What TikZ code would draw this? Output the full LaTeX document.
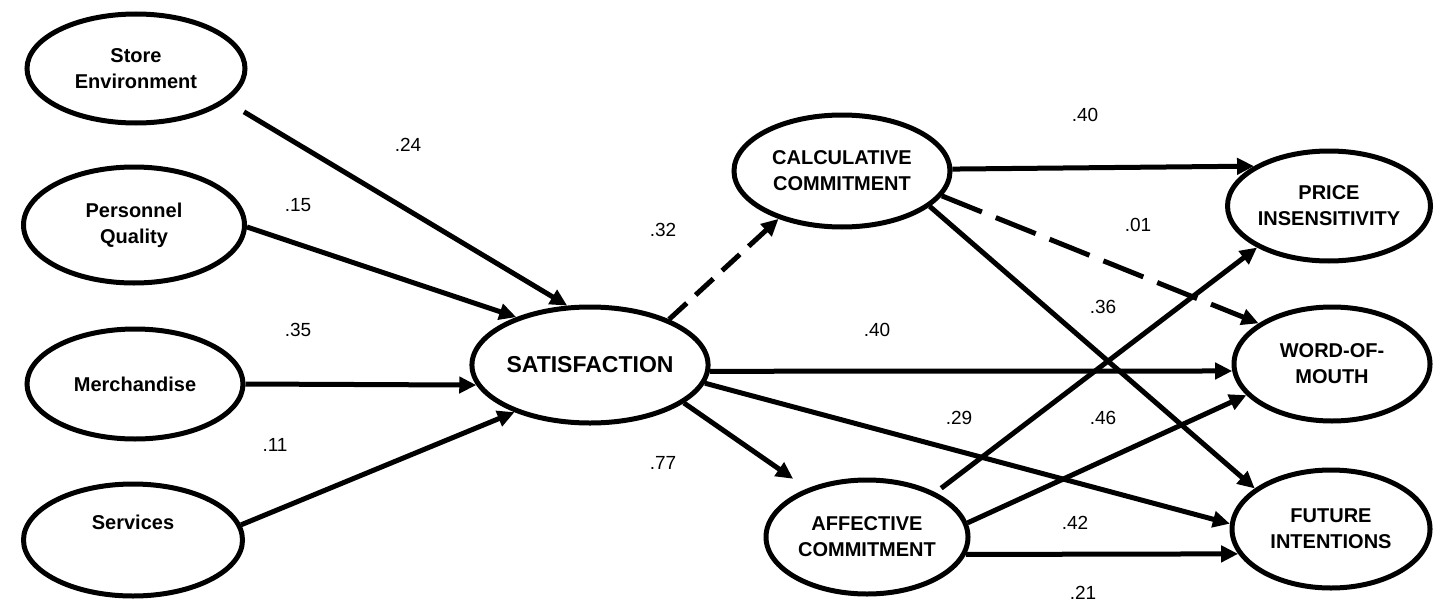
\documentclass[tikz,border=0pt]{standalone}
\usepackage{fontspec}
\setmainfont{Liberation Sans}
\usetikzlibrary{shapes.geometric,arrows.meta}
\begin{document}
\begin{tikzpicture}[x=1pt,y=-1pt,
  construct/.style={ellipse, draw, line width=5pt, inner sep=0pt, align=center,
    font=\fontsize{20}{26}\selectfont\bfseries},
  link/.style={line width=5pt, -{Triangle[length=17pt,width=16pt]}},
  shortdash/.style={dash pattern=on 24pt off 12pt},
  longdash/.style={dash pattern=on 43pt off 15pt},
  coef/.style={inner sep=0pt, font=\fontsize{19}{22}\selectfont}]
\useasboundingbox[fill=white] (0,0) rectangle (1434,602);

% antecedents
\node[construct, minimum width=218pt, minimum height=109pt] (store) at (136,68.5) {Store\\Environment};
\node[construct, minimum width=221pt, minimum height=116pt] (pers) at (134,225) {Personnel\\Quality};
\node[construct, minimum width=216pt, minimum height=110pt] (merch) at (135,384) {Merchandise};
\node[construct, minimum width=219pt, minimum height=112pt] (serv) at (133,540) {\raisebox{36pt}{Services}};

% mediators
\node[construct, minimum width=216pt, minimum height=116pt, font=\fontsize{23}{26}\selectfont\bfseries] (sat) at (590,365) {SATISFACTION};
\node[construct, minimum width=216pt, minimum height=112pt] (calc) at (842,171) {CALCULATIVE\\COMMITMENT};
\node[construct, minimum width=202pt, minimum height=114pt] (aff) at (867,537) {AFFECTIVE\\COMMITMENT};

% outcomes
\node[construct, minimum width=203pt, minimum height=110pt] (price) at (1329,206) {PRICE\\INSENSITIVITY};
\node[construct, minimum width=196pt, minimum height=114pt] (wom) at (1332,364) {WORD-OF-\\MOUTH};
\node[construct, minimum width=198pt, minimum height=118pt] (fut) at (1331,529) {FUTURE\\INTENTIONS};

% paths
\draw[link, shorten <=20pt] (store.-20.4) -- (sat.111);
\draw[link] (pers.-1) -- (sat.147);
\draw[link] (merch.east) -- (sat.190.3);
\draw[link] (serv.8.6) -- (sat.212);
\draw[link, shortdash] (sat.30.5) -- (calc.217.6);
\draw[link] (sat.-3.1) -- (wom.184.1);
\draw[link] (sat.-9.3) -- (fut.177.1);
\draw[link, shorten >=17pt] (sat.-22.4) -- (aff.141);
\draw[link] (calc.1.6) -- (price.152.6);
\draw[link, longdash] (calc.-14.2) -- (wom.151.3);
\draw[link] (calc.-22.75) -- (fut.152.3);
\draw[link, shorten <=7pt] (aff.33.8) -- (price.210.8);
\draw[link] (aff.8.4) -- (wom.200.9);
\draw[link] (aff.-10) -- (fut.195.6);

% coefficients
\node[coef] (c24) at (408,145) {.24};
\node[coef] (c15) at (298,205) {.15};
\node[coef] (c35) at (298,330) {.35};
\node[coef] (c11) at (275,445) {.11};
\node[coef] (c32) at (663,230) {.32};
\node[coef] (c77) at (663,463) {.77};
\node[coef] (c40a) at (1085,115) {.40};
\node[coef] (c01) at (1138,225) {.01};
\node[coef] (c36) at (1103,307) {.36};
\node[coef] (c40b) at (877,330) {.40};
\node[coef] (c29) at (959,418) {.29};
\node[coef] (c46) at (1103,418) {.46};
\node[coef] (c42) at (1075,523) {.42};
\node[coef] (c21) at (1083,593) {.21};
\end{tikzpicture}
\end{document}
